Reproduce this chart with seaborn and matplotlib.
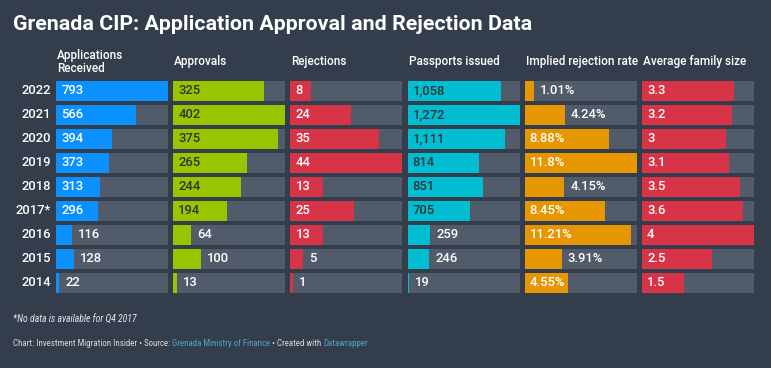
import matplotlib.pyplot as plt
import seaborn as sns

sns.set_theme(style="dark")
plt.rcParams["font.family"] = ["Roboto", "DejaVu Sans"]

years = ["2022", "2021", "2020", "2019", "2018", "2017*", "2016", "2015", "2014"]
applications = [793, 566, 394, 373, 313, 296, 116, 128, 22]
approvals = [325, 402, 375, 265, 244, 194, 64, 100, 13]
rejections = [8, 24, 35, 44, 13, 25, 13, 5, 1]
passports = [1058, 1272, 1111, 814, 851, 705, 259, 246, 19]
rejection_rate = [1.01, 4.24, 8.88, 11.8, 4.15, 8.45, 11.21, 3.91, 4.55]
family_size = [3.3, 3.2, 3, 3.1, 3.5, 3.6, 4, 2.5, 1.5]

bg = "#333d4c"
track = "#525b69"
W, H = 771, 368


def fx(px):
    return px / W


def fy(py):
    return 1 - py / H


columns = [
    ("Applications\nReceived", applications, "#0a91ff", "white", "{:,}"),
    ("Approvals", approvals, "#99c400", "#333333", "{:,}"),
    ("Rejections", rejections, "#d73448", "white", "{:,}"),
    ("Passports issued", passports, "#00bdd2", "#333333", "{:,}"),
    ("Implied rejection rate", rejection_rate, "#e69600", "white", "{}%"),
    ("Average family size", family_size, "#d73448", "white", "{}"),
]

fig = plt.figure(figsize=(W / 100, H / 100), dpi=100, facecolor=bg)

col_w = 112
top, bottom = 79, 295
for k, (header, vals, color, inner_color, fmt) in enumerate(columns):
    left = 56 + 117.2 * k
    ax = fig.add_axes([fx(left), fy(bottom), col_w / W, (bottom - top) / H])
    vmax = max(vals)
    sns.barplot(x=[vmax] * len(years), y=years, orient="h", color=track,
                saturation=1, width=0.83, linewidth=0, ax=ax)
    sns.barplot(x=vals, y=years, orient="h", color=color,
                saturation=1, width=0.83, linewidth=0, ax=ax)
    ax.set_xlim(0, vmax)
    ax.set_axis_off()

    for i, v in enumerate(vals):
        label = fmt.format(v)
        bar_px = v / vmax * col_w
        text_px = sum(3 if ch in ".," else 9 if ch == "%" else 7 for ch in label)
        if bar_px >= text_px + 8:
            ax.annotate(label, xy=(0, i), xytext=(3.6, 0), textcoords="offset points",
                        ha="left", va="center", color=inner_color, fontsize=9.4,
                        fontweight=500)
        else:
            ax.annotate(label, xy=(v, i), xytext=(4.3, 0), textcoords="offset points",
                        ha="left", va="center", color="white", fontsize=9.4,
                        fontweight=500)
        if k == 0:
            ax.annotate(years[i], xy=(0, i), xycoords=("axes fraction", "data"),
                        xytext=(-3.5, 0), textcoords="offset points",
                        ha="right", va="center", color="white", fontsize=9.4,
                        fontweight=500)

    fig.text(fx(left + 1), fy(62), header, ha="left", va="center",
             color="white", fontsize=8.5, linespacing=1.05, fontweight=500)

fig.text(fx(13), fy(24), "Grenada CIP: Application Approval and Rejection Data",
         ha="left", va="center", color="white", fontsize=15.4, fontweight="bold")

foot_font = ["Roboto Condensed", "Liberation Sans Narrow", "Roboto"]
fig.text(fx(13), fy(320), "*No data is available for Q4 2017", ha="left", va="center",
         color="#e8e8e8", fontsize=7, style="italic", family=foot_font)

renderer = fig.canvas.get_renderer()
parts = [
    ("Chart: Investment Migration Insider \u2022 Source: ", "#d8d8d8"),
    ("Grenada Ministry of Finance", "#4fa3c7"),
    (" \u2022 Created with ", "#d8d8d8"),
    ("Datawrapper", "#4fa3c7"),
]
x = fx(13)
for txt, c in parts:
    t = fig.text(x, fy(343), txt, ha="left", va="center", color=c,
                 fontsize=6.4, family=foot_font)
    bb = t.get_window_extent(renderer)
    x = bb.x1 / fig.bbox.width

fig.savefig("out.png", dpi=100, facecolor=bg)
